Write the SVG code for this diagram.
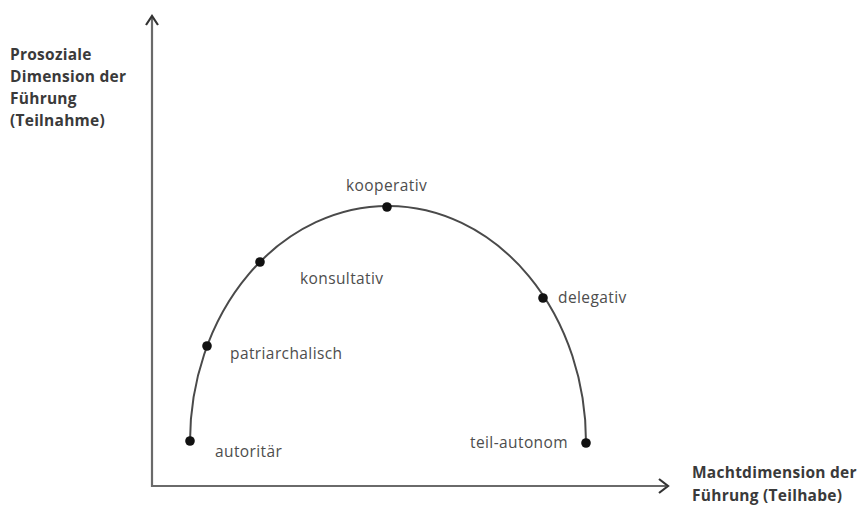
<svg xmlns="http://www.w3.org/2000/svg" width="859" height="506" viewBox="0 0 859 506">
<style>
.axis{fill:none;stroke:#6a6a6a;stroke-width:2.2}
.head{fill:none;stroke:#333;stroke-width:2.2}
.arc{fill:none;stroke:#4a4a4a;stroke-width:2}
.dot{fill:#111}
.lbl{font-family:"Open Sans","Liberation Sans",sans-serif;font-size:15.5px;letter-spacing:0.4px;fill:#4d4d4d}
.ttl{font-family:"Open Sans","Liberation Sans",sans-serif;font-size:15.5px;letter-spacing:0.25px;font-weight:bold;fill:#3a3a3a}
</style>
<rect width="859" height="506" fill="#fff"/>
<g id="axes">
<path class="axis" d="M152,18 V486 H666"/>
<path class="head" d="M146,25 L152,16 L158,25"/>
<path class="head" d="M659,479 L668,486 L659,493"/>
</g>
<g id="axis-labels">
<text class="ttl" x="10" y="60">Prosoziale</text>
<text class="ttl" x="10" y="82">Dimension der</text>
<text class="ttl" x="10" y="104">Führung</text>
<text class="ttl" x="10" y="126">(Teilnahme)</text>
<text class="ttl" x="692" y="478">Machtdimension der</text>
<text class="ttl" x="692" y="501">Führung (Teilhabe)</text>
</g>
<g id="connectors">
<path class="arc" d="M190,441 A198,236 0 0 1 586,443"/>
</g>
<g id="autoritaer"><circle class="dot" cx="190" cy="441" r="4.8"/><text class="lbl" x="215" y="457">autoritär</text></g>
<g id="patriarchalisch"><circle class="dot" cx="207" cy="346" r="4.8"/><text class="lbl" x="230" y="359">patriarchalisch</text></g>
<g id="konsultativ"><circle class="dot" cx="260" cy="262" r="4.8"/><text class="lbl" x="300" y="284">konsultativ</text></g>
<g id="kooperativ"><circle class="dot" cx="387" cy="207" r="4.8"/><text class="lbl" x="346" y="191">kooperativ</text></g>
<g id="delegativ"><circle class="dot" cx="543" cy="298" r="4.8"/><text class="lbl" x="558" y="303">delegativ</text></g>
<g id="teil-autonom"><circle class="dot" cx="586" cy="443" r="4.8"/><text class="lbl" x="470" y="448">teil-autonom</text></g>
</svg>
